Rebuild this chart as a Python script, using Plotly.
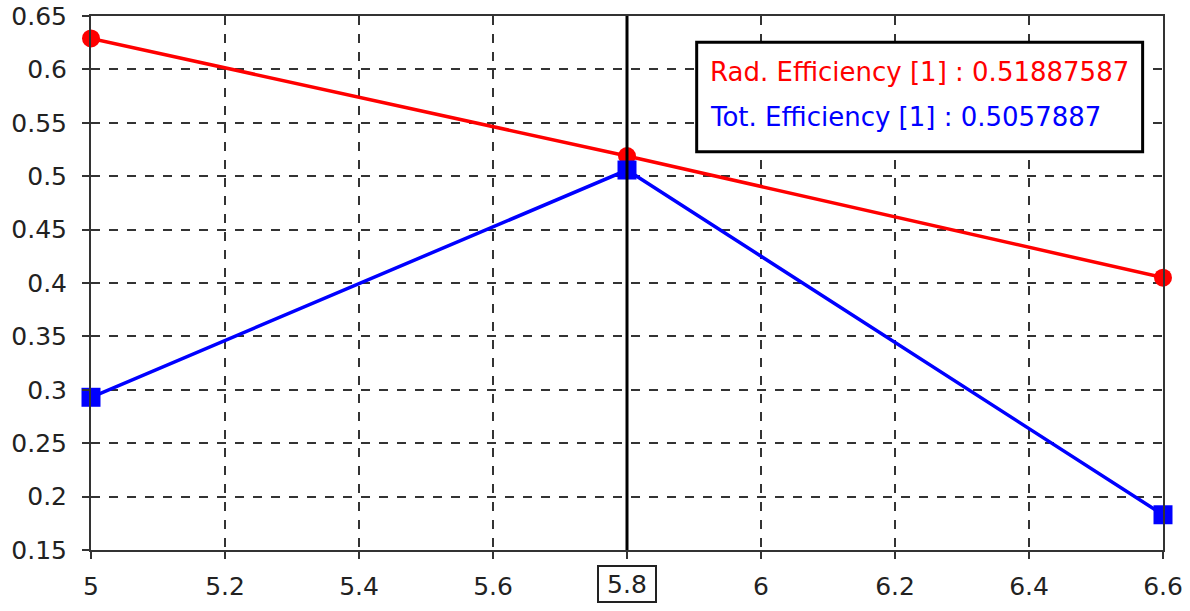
import plotly.graph_objects as go

freq = [5.0, 5.8, 6.6]
rad_eff = [0.629, 0.51887587, 0.405]
tot_eff = [0.293, 0.5057887, 0.183]
x_ticks = [5, 5.2, 5.4, 5.6, 5.8, 6, 6.2, 6.4, 6.6]
x_labels = ["5", "5.2", "5.4", "5.6", "", "6", "6.2", "6.4", "6.6"]
y_ticks = [0.15, 0.2, 0.25, 0.3, 0.35, 0.4, 0.45, 0.5, 0.55, 0.6, 0.65]
y_labels = ["0.15", "0.2", "0.25", "0.3", "0.35", "0.4", "0.45", "0.5", "0.55", "0.6", "0.65"]
marker_x = 5.8
legend_lines = ["Rad. Efficiency [1] : 0.51887587", "Tot. Efficiency [1] : 0.5057887"]
legend_colors = ["#ff0000", "#0000ff"]

FONT = "DejaVu Sans"

fig = go.Figure()
fig.add_trace(go.Scatter(x=freq, y=rad_eff, mode="lines+markers",
                         line=dict(color="#ff0000", width=3.5),
                         marker=dict(symbol="circle", size=18, color="#ff0000"),
                         cliponaxis=False, showlegend=False))
fig.add_trace(go.Scatter(x=freq, y=tot_eff, mode="lines+markers",
                         line=dict(color="#0000ff", width=3.5),
                         marker=dict(symbol="square", size=19, color="#0000ff"),
                         cliponaxis=False, showlegend=False))

fig.add_shape(type="line", xref="x", yref="paper", x0=marker_x, x1=marker_x, y0=0, y1=1,
              line=dict(color="black", width=3))

fig.add_annotation(x=marker_x, y=0, xref="x", yref="paper", yshift=-15, yanchor="top",
                   text="5.8", showarrow=False, font=dict(family=FONT, size=25, color="#222"),
                   width=54, height=32,
                   bordercolor="#222", borderwidth=2, borderpad=1, bgcolor="white")

# legend box
fig.add_shape(type="rect", xref="paper", yref="paper", x0=0.565, x1=0.981, y0=0.746, y1=0.951,
              line=dict(color="black", width=3), fillcolor="white", layer="above")
for i, (txt, col) in enumerate(zip(legend_lines, legend_colors)):
    fig.add_annotation(x=0.5756, y=[0.895, 0.811][i], xref="paper", yref="paper",
                       xanchor="left", yanchor="middle", text=txt, showarrow=False,
                       font=dict(family=FONT, size=26, color=col))

axis_common = dict(showline=True, linecolor="#333", linewidth=2, mirror=True,
                   ticks="outside", ticklen=7, tickwidth=2, tickcolor="#333",
                   showgrid=True, gridcolor="#333", griddash="dash", gridwidth=1.5,
                   zeroline=False, automargin=False, ticklabeloverflow="allow",
                   tickfont=dict(family=FONT, size=25, color="#222"))

fig.update_xaxes(range=[5, 6.6], tickvals=x_ticks, ticktext=x_labels,
                 ticklabelstandoff=6, **axis_common)
fig.update_yaxes(range=[0.15, 0.65], tickvals=y_ticks, ticktext=y_labels,
                 ticklabelstandoff=10, **axis_common)

fig.update_layout(width=1190, height=611, margin=dict(l=91, r=27, t=16, b=61),
                  plot_bgcolor="white", paper_bgcolor="white",
                  font=dict(family=FONT))

# remove the browser's default 8px body margin so the figure fills the window
fig.write_html("out.html", config={"displayModeBar": False},
               post_script="document.body.style.margin='0px';")
